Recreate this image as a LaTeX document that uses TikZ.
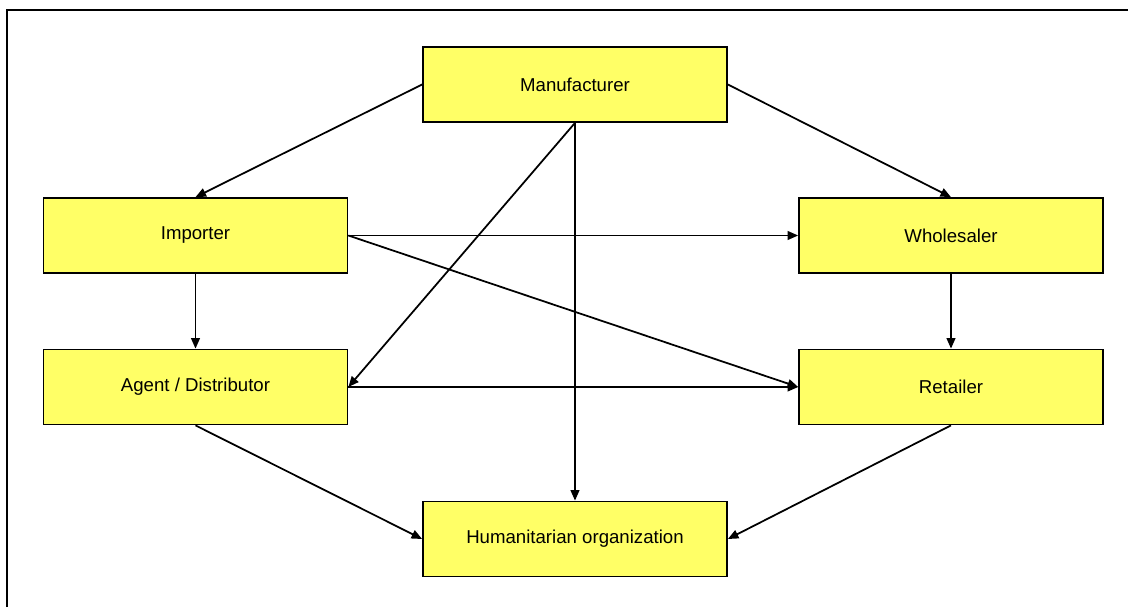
\documentclass[tikz,border=0pt]{standalone}
\usepackage{fontspec}
\setmainfont{Liberation Sans}
\usetikzlibrary{arrows.meta}
\definecolor{boxyellow}{RGB}{255,255,102}

\begin{document}
\begin{tikzpicture}[
  font=\fontsize{10.6}{12}\selectfont,
  party/.style={draw, line width=1pt, fill=boxyellow, align=center,
    minimum width=6.08cm, minimum height=1.5cm, inner sep=0pt},
  flow/.style={line width=1pt, -{Triangle[length=6pt,width=5pt]}}
]
\useasboundingbox (0,0) rectangle (22.56,12.14);
% frame, only top and left edges
\draw[line width=1.4pt] (0.14,0) -- (0.14,11.94) -- (22.56,11.94);

\node[party] (manu) at (11.5,10.45) {Manufacturer};
\node[party] (imp) at (3.91,7.43) {Importer};
\node[party] (whole) at (19.02,7.43) {Wholesaler};
\node[party] (agent) at (3.91,4.40) {Agent / Distributor};
\node[party] (ret) at (19.02,4.40) {Retailer};
\node[party] (hum) at (11.5,1.36) {Humanitarian organization};

\draw[flow] (manu.west) -- (imp.north);
\draw[flow] (manu.east) -- (whole.north);
\draw[flow] (manu.south) -- (agent.east);
\draw[flow] (manu.south) -- (hum.north);
\draw[flow] (imp.east) -- (whole.west);
\draw[flow] (imp.east) -- (ret.west);
\draw[flow] (imp.south) -- (agent.north);
\draw[flow] (whole.south) -- (ret.north);
\draw[flow] (agent.east) -- (ret.west);
\draw[flow] (agent.south) -- (hum.west);
\draw[flow] (ret.south) -- (hum.east);
\end{tikzpicture}
\end{document}
